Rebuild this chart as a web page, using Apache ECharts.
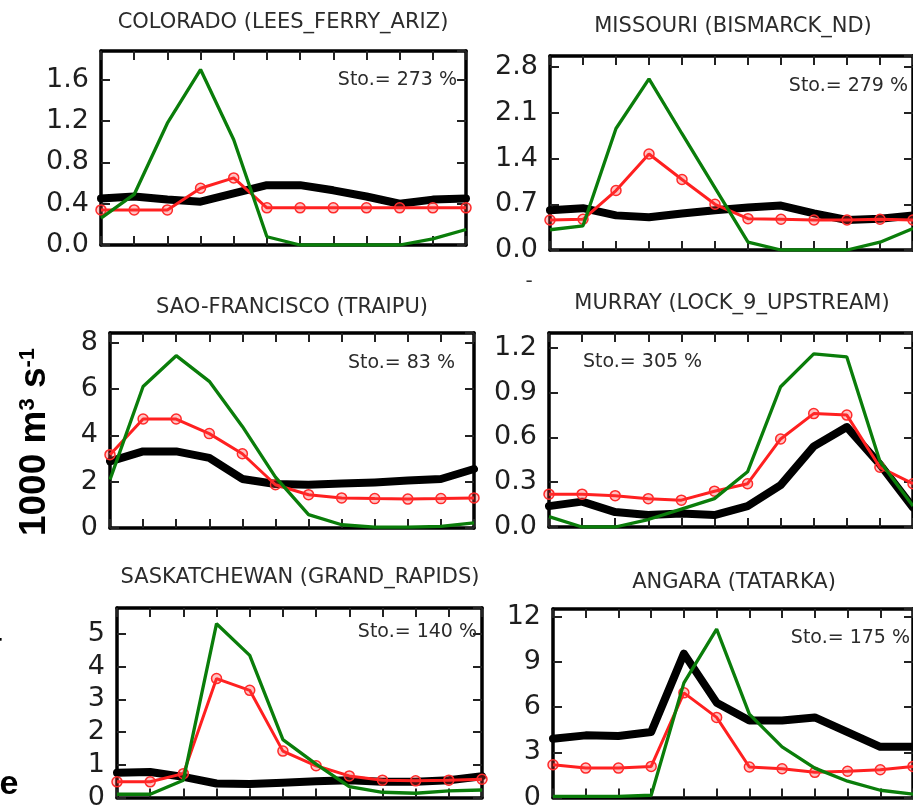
<!DOCTYPE html>
<html><head><meta charset="utf-8">
<script src="https://cdn.jsdelivr.net/npm/echarts@6/dist/echarts.min.js"></script>
<style>html,body{margin:0;padding:0;background:#fff;overflow:hidden}#c{width:913px;height:811px}</style>
</head><body><div id="c"></div><script>
const months = ['Jan','Feb','Mar','Apr','May','Jun','Jul','Aug','Sep','Oct','Nov','Dec'];

const panelTitles = ['COLORADO (LEES_FERRY_ARIZ)','MISSOURI (BISMARCK_ND)','SAO-FRANCISCO (TRAIPU)','MURRAY (LOCK_9_UPSTREAM)','SASKATCHEWAN (GRAND_RAPIDS)','ANGARA (TATARKA)'];
const storageLabels = ['Sto.= 273 %','Sto.= 279 %','Sto.= 83 %','Sto.= 305 %','Sto.= 140 %','Sto.= 175 %'];

// y-axis ranges and tick steps per panel
const yMax = [1.88, 2.97, 8.43, 1.30, 5.8, 12.5];
const yStep = [0.4, 0.7, 2, 0.3, 1, 3];
const yDecimals = [1, 1, 0, 1, 0, 0];

// observed (black), regulated simulation (red), natural simulation (green)
const coloradoObs = [0.45,0.47,0.44,0.42,0.50,0.58,0.58,0.53,0.47,0.40,0.44,0.45];
const coloradoReg = [0.34,0.34,0.34,0.55,0.65,0.36,0.36,0.36,0.36,0.36,0.36,0.36];
const coloradoNat = [0.26,0.49,1.18,1.70,1.02,0.08,0.0,0.0,0.0,0.0,0.06,0.15];

const missouriObs = [0.61,0.64,0.53,0.50,0.56,0.61,0.65,0.68,0.56,0.46,0.48,0.53];
const missouriReg = [0.46,0.47,0.91,1.47,1.08,0.70,0.48,0.47,0.46,0.46,0.47,0.46];
const missouriNat = [0.31,0.37,1.86,2.62,1.78,0.95,0.12,0.0,0.0,0.0,0.12,0.33];

const saoObs = [2.88,3.31,3.31,3.03,2.12,1.90,1.87,1.92,1.97,2.05,2.12,2.55];
const saoReg = [3.17,4.71,4.71,4.08,3.21,1.87,1.44,1.30,1.27,1.25,1.27,1.30];
const saoNat = [2.09,6.12,7.45,6.34,4.39,2.20,0.58,0.14,0.04,0.04,0.07,0.22];

const murrayObs = [0.14,0.17,0.10,0.08,0.09,0.08,0.14,0.28,0.54,0.67,0.42,0.13];
const murrayReg = [0.22,0.22,0.21,0.19,0.18,0.24,0.29,0.59,0.76,0.75,0.40,0.29];
const murrayNat = [0.07,0.0,0.0,0.05,0.12,0.19,0.37,0.94,1.16,1.14,0.44,0.14];

const saskObs = [0.76,0.78,0.63,0.43,0.41,0.45,0.50,0.53,0.48,0.48,0.53,0.65];
const saskReg = [0.48,0.48,0.73,3.64,3.28,1.42,0.97,0.66,0.53,0.51,0.53,0.56];
const saskNat = [0.10,0.10,0.53,5.32,4.35,1.77,1.02,0.33,0.16,0.13,0.20,0.23];

const angaraObs = [3.9,4.12,4.08,4.34,9.54,6.29,5.10,5.10,5.31,4.34,3.36,3.36];
const angaraReg = [2.17,1.95,1.95,2.06,6.94,5.31,2.02,1.91,1.67,1.74,1.84,2.06];
const angaraNat = [0.07,0.07,0.07,0.15,7.6,11.17,5.53,3.36,1.95,1.08,0.48,0.22];

const obsSets = [coloradoObs, missouriObs, saoObs, murrayObs, saskObs, angaraObs];
const regSets = [coloradoReg, missouriReg, saoReg, murrayReg, saskReg, angaraReg];
const natSets = [coloradoNat, missouriNat, saoNat, murrayNat, saskNat, angaraNat];

// layout (pixels)
const boxes = [
  {left:101, top:51, width:365, height:194},
  {left:550, top:56, width:365, height:194},
  {left:110, top:333, width:364, height:195},
  {left:549, top:333, width:365, height:194},
  {left:117, top:608, width:365, height:195},
  {left:553, top:609, width:365, height:193}
];
const titlePos = [[283,23],[733,27],[292,308],[732,304],[300,578],[734,583]];
const stoPos = [[457,80,'right'],[908,86,'right'],[455,363,'right'],[583,362,'left'],[477,632,'right'],[910,638,'right']];

const FONT = '"DejaVu Sans", "Liberation Sans", sans-serif';
const grid = [], xAxis = [], yAxis = [], series = [], graphic = [];

boxes.forEach((b, i) => {
  grid.push({left:b.left, top:b.top, width:b.width, height:b.height, containLabel:false});
  const tick = {show:true, inside:true, length:9, lineStyle:{color:'#222', width:2}};
  const line = {show:true, onZero:false, lineStyle:{color:'#000', width:3.5}};
  ['bottom','top'].forEach(pos => xAxis.push({
    type:'category', data:months, boundaryGap:false, gridIndex:i, position:pos,
    axisLine:line, axisTick:Object.assign({alignWithLabel:false, interval:0}, tick),
    axisLabel:{show:false}, splitLine:{show:false}
  }));
  ['left','right'].forEach(pos => yAxis.push({
    type:'value', min:0, max:yMax[i], interval:yStep[i], gridIndex:i, position:pos,
    axisLine:line, axisTick:tick, splitLine:{show:false},
    axisLabel:{show:pos==='left', showMaxLabel:false, margin:12, color:'#1e1e1e',
      fontSize:27, fontFamily:FONT,
      formatter:v => Number(v).toFixed(yDecimals[i])}
  }));
  const xi = i*2, yi = i*2;
  series.push({type:'line', xAxisIndex:xi, yAxisIndex:yi, data:obsSets[i], showSymbol:false,
    lineStyle:{color:'#000', width:8, cap:'round', join:'round'}, z:2, silent:true});
  series.push({type:'line', xAxisIndex:xi, yAxisIndex:yi, data:regSets[i], symbol:'circle', symbolSize:10,
    showSymbol:true, showAllSymbol:true,
    itemStyle:{color:'rgba(255,60,60,0.3)', borderColor:'#ff2a2a', borderWidth:1.5},
    lineStyle:{color:'#ff2020', width:3}, z:3, silent:true});
  series.push({type:'line', xAxisIndex:xi, yAxisIndex:yi, data:natSets[i], showSymbol:false,
    lineStyle:{color:'#0a7d0a', width:3.3}, z:4, silent:true});

  graphic.push({type:'text', x:titlePos[i][0], y:titlePos[i][1],
    style:{text:panelTitles[i], fill:'#2b2b2b', font:'21px '+FONT, align:'center', verticalAlign:'middle',
      textAlign:'center', textVerticalAlign:'middle'}});
  graphic.push({type:'text', x:stoPos[i][0], y:stoPos[i][1], z:10,
    style:{text:storageLabels[i], fill:'#2b2b2b', font:'19px '+FONT, align:stoPos[i][2], verticalAlign:'middle',
      textAlign:stoPos[i][2], textVerticalAlign:'middle'}});
});

graphic.push({type:'text', x:35, y:442, rotation:Math.PI/2,
  style:{text:'{a|1000 m}{b|3}{a| s}{b|-1}', align:'center', verticalAlign:'middle',
    textAlign:'center', textVerticalAlign:'middle',
    rich:{a:{fontSize:37, fontWeight:'bold', fontFamily:'"Liberation Sans", sans-serif', fill:'#000', color:'#000'},
          b:{fontSize:22, fontWeight:'bold', fontFamily:'"Liberation Sans", sans-serif', fill:'#000', color:'#000', verticalAlign:'top'}}}});
graphic.push({type:'text', x:9, y:785,
  style:{text:'e', fill:'#000', font:'bold 34px "Liberation Sans", sans-serif', align:'center', verticalAlign:'middle',
    textAlign:'center', textVerticalAlign:'middle'}});
graphic.push({type:'text', x:-8, y:632,
  style:{text:'a', fill:'#000', font:'bold 34px "Liberation Sans", sans-serif', align:'center', verticalAlign:'middle',
    textAlign:'center', textVerticalAlign:'middle'}});
graphic.push({type:'text', x:529, y:282,
  style:{text:'-', fill:'#333', font:'20px '+FONT, align:'center', verticalAlign:'middle',
    textAlign:'center', textVerticalAlign:'middle'}});

const chart = echarts.init(document.getElementById('c'), null, {renderer:'canvas'});
chart.setOption({animation:false, backgroundColor:'#fff', grid, xAxis, yAxis, series, graphic});
</script></body></html>
